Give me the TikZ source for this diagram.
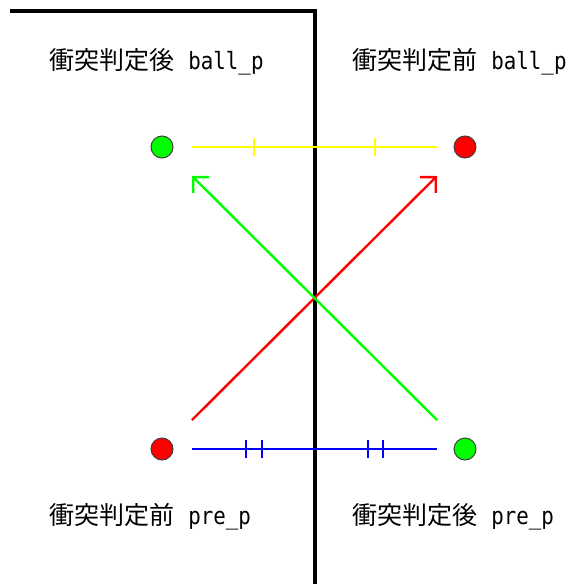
\documentclass[tikz,border=0pt]{standalone}
\usepackage{fontspec}
\setmainfont{Noto Sans CJK JP}
\newfontfamily\latmono[Scale=0.95,FakeStretch=0.875]{DejaVu Sans Mono}
\usetikzlibrary{arrows.meta}
\begin{document}
\begin{tikzpicture}[x=1pt,y=-1pt,
  ball/.style={circle,draw=black!75,line width=1pt,minimum size=22pt,inner sep=0pt},
  lbl/.style={font=\fontsize{25}{28}\selectfont,inner sep=0pt},
  vec/.style={line width=2.4pt,-{Straight Barb[length=11pt,width=22pt,angle'=90]}},
  seg/.style={line width=2.4pt},
  tick/.style={line width=2.4pt}]
\useasboundingbox (0,0) rectangle (574,584);
% wall
\coordinate (w1) at (10,10.5);
\coordinate (w2) at (314.5,10.5);
\coordinate (w3) at (314.5,584);
\draw[line width=4pt,line join=miter] (w1) -- (w2) -- (w3);
% balls
\node[ball,fill={rgb,255:red,0;green,255;blue,0}] (ga) at (162,147) {};
\node[ball,fill={rgb,255:red,255;green,0;blue,0}] (rb) at (465,147) {};
\node[ball,fill={rgb,255:red,255;green,0;blue,0}] (rp) at (162,449) {};
\node[ball,fill={rgb,255:red,0;green,255;blue,0}] (gp) at (465,449) {};
% labels
\node[lbl,anchor=west] (l1) at (49.5,61.5) {衝突判定後\hspace{0.55em}{\latmono ball\_p}};
\node[lbl,anchor=west] (l2) at (352.5,61.5) {衝突判定前\hspace{0.55em}{\latmono ball\_p}};
\node[lbl,anchor=west] (l3) at (49.5,516.5) {衝突判定前\hspace{0.55em}{\latmono pre\_p}};
\node[lbl,anchor=west] (l4) at (352.5,516.5) {衝突判定後\hspace{0.55em}{\latmono pre\_p}};
% endpoints
\coordinate (ya) at (192,147); \coordinate (yb) at (437,147);
\coordinate (ba) at (192,449); \coordinate (bb) at (437,449);
\coordinate (rs) at (192,420); \coordinate (re) at (437,176);
\coordinate (gs) at (437,420); \coordinate (ge) at (192,176);
\draw[seg,draw={rgb,255:red,255;green,255;blue,0}] (ya) -- (yb);
\foreach \x in {254,375}
  \draw[tick,draw={rgb,255:red,255;green,255;blue,0}] (\x,138) -- (\x,156);
\draw[seg,draw={rgb,255:red,0;green,0;blue,255}] (ba) -- (bb);
\foreach \x in {246,262,368,383}
  \draw[tick,draw={rgb,255:red,0;green,0;blue,255}] (\x,440) -- (\x,458);
\draw[vec,draw={rgb,255:red,255;green,0;blue,0}] (rs) -- (re);
\draw[vec,draw={rgb,255:red,0;green,255;blue,0}] (gs) -- (ge);
\end{tikzpicture}
\end{document}
